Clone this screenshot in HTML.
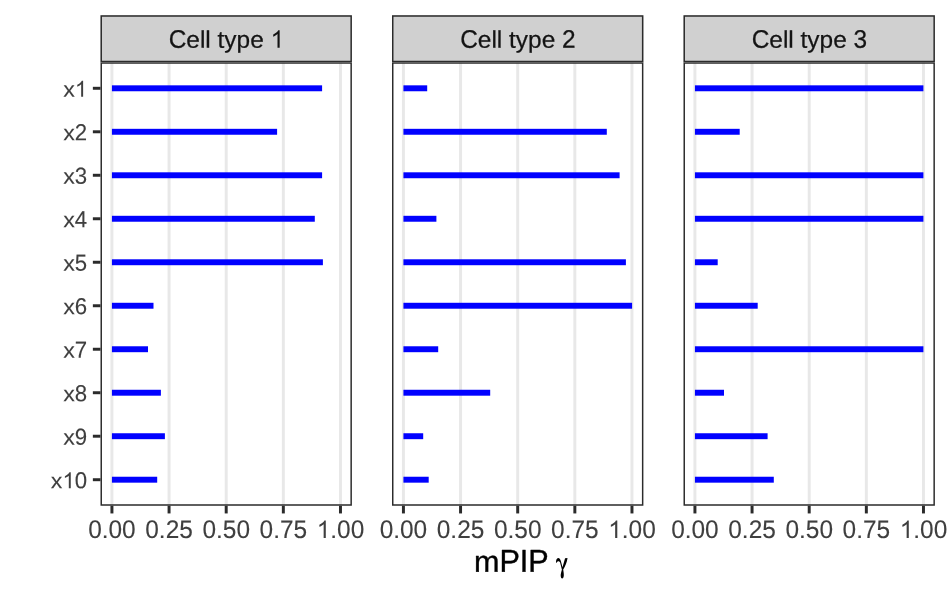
<!DOCTYPE html>
<html><head><meta charset="utf-8"><title>mPIP</title>
<style>
html,body{margin:0;padding:0;background:#fff;}
body{width:950px;height:600px;overflow:hidden;}
#w{width:950px;height:600px;opacity:0.999;will-change:transform;}
svg{display:block;}
text{font-family:"Liberation Sans",sans-serif;white-space:pre;font-kerning:none;stroke-linejoin:round;}
</style></head><body><div id="w">
<svg width="950" height="600" viewBox="0 0 950 600">
<!-- panel 1 -->
<rect x="110.45" y="62.2" width="2.96" height="443.60" fill="#E8E8E8"/>
<rect x="167.58" y="62.2" width="2.96" height="443.60" fill="#E8E8E8"/>
<rect x="224.72" y="62.2" width="2.96" height="443.60" fill="#E8E8E8"/>
<rect x="281.86" y="62.2" width="2.96" height="443.60" fill="#E8E8E8"/>
<rect x="338.99" y="62.2" width="2.96" height="443.60" fill="#E8E8E8"/>
<rect x="111.93" y="85.33" width="210.17" height="5.93" fill="#0000FF"/>
<rect x="111.93" y="128.82" width="165.17" height="5.93" fill="#0000FF"/>
<rect x="111.93" y="172.31" width="210.17" height="5.93" fill="#0000FF"/>
<rect x="111.93" y="215.80" width="202.87" height="5.93" fill="#0000FF"/>
<rect x="111.93" y="259.29" width="210.97" height="5.93" fill="#0000FF"/>
<rect x="111.93" y="302.78" width="41.57" height="5.93" fill="#0000FF"/>
<rect x="111.93" y="346.27" width="36.07" height="5.93" fill="#0000FF"/>
<rect x="111.93" y="389.76" width="48.97" height="5.93" fill="#0000FF"/>
<rect x="111.93" y="433.25" width="52.97" height="5.93" fill="#0000FF"/>
<rect x="111.93" y="476.74" width="45.27" height="5.93" fill="#0000FF"/>
<path fill="#2B2B2B" fill-rule="evenodd" d="M100.50 62.20h251.40v443.60h-251.40zM101.98 63.68h248.44v440.64h-248.44z"/>
<rect x="100.50" y="15.25" width="251.4" height="46.95" fill="#D0D0D0"/>
<path fill="#2B2B2B" fill-rule="evenodd" d="M100.50 15.25h251.40v46.95h-251.40zM101.98 16.73h248.44v43.99h-248.44z"/>
<text transform="translate(168.67 47.8) rotate(0.05) scale(1 1.04)" font-size="24.44" fill="#141414" stroke="#141414" stroke-width="0.25">C</text><text transform="translate(186.32 47.8) rotate(0.05) scale(1 0.985)" font-size="24.44" fill="#141414" stroke="#141414" stroke-width="0.25">ell type </text><text x="270.54" y="47.8" font-size="24.44" fill="none">1</text><path transform="translate(270.54 47.80) scale(0.011934 -0.011934)" fill="#141414" d="M763 0H583V1147Q518 1085 412.5 1023T223 930V1104Q374 1175 487 1276T647 1472H763Z"/>
<rect x="110.45" y="505.8" width="2.96" height="7.64" fill="#2B2B2B"/>
<text transform="translate(88.14 537.95) rotate(0.05) scale(1 1.042)" font-size="24.44" fill="#3F3F3F" stroke="#3F3F3F" stroke-width="0.12">0</text><text transform="translate(101.74 537.95) rotate(0.05) scale(1 0.97)" font-size="24.44" fill="#3F3F3F" stroke="#3F3F3F" stroke-width="0.12">.</text><text transform="translate(108.53 537.95) rotate(0.05) scale(1 1.042)" font-size="24.44" fill="#3F3F3F" stroke="#3F3F3F" stroke-width="0.12">00</text>
<rect x="167.58" y="505.8" width="2.96" height="7.64" fill="#2B2B2B"/>
<text transform="translate(145.28 537.95) rotate(0.05) scale(1 1.042)" font-size="24.44" fill="#3F3F3F" stroke="#3F3F3F" stroke-width="0.12">0</text><text transform="translate(158.87 537.95) rotate(0.05) scale(1 0.97)" font-size="24.44" fill="#3F3F3F" stroke="#3F3F3F" stroke-width="0.12">.</text><text transform="translate(165.66 537.95) rotate(0.05) scale(1 1.042)" font-size="24.44" fill="#3F3F3F" stroke="#3F3F3F" stroke-width="0.12">25</text>
<rect x="224.72" y="505.8" width="2.96" height="7.64" fill="#2B2B2B"/>
<text transform="translate(202.42 537.95) rotate(0.05) scale(1 1.042)" font-size="24.44" fill="#3F3F3F" stroke="#3F3F3F" stroke-width="0.12">0</text><text transform="translate(216.01 537.95) rotate(0.05) scale(1 0.97)" font-size="24.44" fill="#3F3F3F" stroke="#3F3F3F" stroke-width="0.12">.</text><text transform="translate(222.80 537.95) rotate(0.05) scale(1 1.042)" font-size="24.44" fill="#3F3F3F" stroke="#3F3F3F" stroke-width="0.12">50</text>
<rect x="281.86" y="505.8" width="2.96" height="7.64" fill="#2B2B2B"/>
<text transform="translate(259.55 537.95) rotate(0.05) scale(1 1.042)" font-size="24.44" fill="#3F3F3F" stroke="#3F3F3F" stroke-width="0.12">0</text><text transform="translate(273.15 537.95) rotate(0.05) scale(1 0.97)" font-size="24.44" fill="#3F3F3F" stroke="#3F3F3F" stroke-width="0.12">.</text><text transform="translate(279.94 537.95) rotate(0.05) scale(1 1.042)" font-size="24.44" fill="#3F3F3F" stroke="#3F3F3F" stroke-width="0.12">75</text>
<rect x="338.99" y="505.8" width="2.96" height="7.64" fill="#2B2B2B"/>
<text x="316.69" y="537.95" font-size="24.44" fill="none">1</text><path transform="translate(316.69 537.95) scale(0.011934 -0.011934)" fill="#3F3F3F" d="M763 0H583V1147Q518 1085 412.5 1023T223 930V1104Q374 1175 487 1276T647 1472H763Z"/><text transform="translate(330.28 537.95) rotate(0.05) scale(1 0.97)" font-size="24.44" fill="#3F3F3F" stroke="#3F3F3F" stroke-width="0.12">.</text><text transform="translate(337.07 537.95) rotate(0.05) scale(1 1.042)" font-size="24.44" fill="#3F3F3F" stroke="#3F3F3F" stroke-width="0.12">00</text>
<!-- panel 2 -->
<rect x="401.95" y="62.2" width="2.96" height="443.60" fill="#E8E8E8"/>
<rect x="459.08" y="62.2" width="2.96" height="443.60" fill="#E8E8E8"/>
<rect x="516.22" y="62.2" width="2.96" height="443.60" fill="#E8E8E8"/>
<rect x="573.36" y="62.2" width="2.96" height="443.60" fill="#E8E8E8"/>
<rect x="630.49" y="62.2" width="2.96" height="443.60" fill="#E8E8E8"/>
<rect x="403.43" y="85.33" width="23.77" height="5.93" fill="#0000FF"/>
<rect x="403.43" y="128.82" width="203.37" height="5.93" fill="#0000FF"/>
<rect x="403.43" y="172.31" width="216.17" height="5.93" fill="#0000FF"/>
<rect x="403.43" y="215.80" width="32.97" height="5.93" fill="#0000FF"/>
<rect x="403.43" y="259.29" width="222.47" height="5.93" fill="#0000FF"/>
<rect x="403.43" y="302.78" width="228.67" height="5.93" fill="#0000FF"/>
<rect x="403.43" y="346.27" width="34.77" height="5.93" fill="#0000FF"/>
<rect x="403.43" y="389.76" width="86.77" height="5.93" fill="#0000FF"/>
<rect x="403.43" y="433.25" width="19.77" height="5.93" fill="#0000FF"/>
<rect x="403.43" y="476.74" width="25.27" height="5.93" fill="#0000FF"/>
<path fill="#2B2B2B" fill-rule="evenodd" d="M392.00 62.20h251.40v443.60h-251.40zM393.48 63.68h248.44v440.64h-248.44z"/>
<rect x="392.00" y="15.25" width="251.4" height="46.95" fill="#D0D0D0"/>
<path fill="#2B2B2B" fill-rule="evenodd" d="M392.00 15.25h251.40v46.95h-251.40zM393.48 16.73h248.44v43.99h-248.44z"/>
<text transform="translate(460.17 47.8) rotate(0.05) scale(1 1.04)" font-size="24.44" fill="#141414" stroke="#141414" stroke-width="0.25">C</text><text transform="translate(477.82 47.8) rotate(0.05) scale(1 0.985)" font-size="24.44" fill="#141414" stroke="#141414" stroke-width="0.25">ell type </text><text transform="translate(562.04 47.8) rotate(0.05) scale(1 1.04)" font-size="24.44" fill="#141414" stroke="#141414" stroke-width="0.25">2</text>
<rect x="401.95" y="505.8" width="2.96" height="7.64" fill="#2B2B2B"/>
<text transform="translate(379.64 537.95) rotate(0.05) scale(1 1.042)" font-size="24.44" fill="#3F3F3F" stroke="#3F3F3F" stroke-width="0.12">0</text><text transform="translate(393.24 537.95) rotate(0.05) scale(1 0.97)" font-size="24.44" fill="#3F3F3F" stroke="#3F3F3F" stroke-width="0.12">.</text><text transform="translate(400.03 537.95) rotate(0.05) scale(1 1.042)" font-size="24.44" fill="#3F3F3F" stroke="#3F3F3F" stroke-width="0.12">00</text>
<rect x="459.08" y="505.8" width="2.96" height="7.64" fill="#2B2B2B"/>
<text transform="translate(436.78 537.95) rotate(0.05) scale(1 1.042)" font-size="24.44" fill="#3F3F3F" stroke="#3F3F3F" stroke-width="0.12">0</text><text transform="translate(450.37 537.95) rotate(0.05) scale(1 0.97)" font-size="24.44" fill="#3F3F3F" stroke="#3F3F3F" stroke-width="0.12">.</text><text transform="translate(457.16 537.95) rotate(0.05) scale(1 1.042)" font-size="24.44" fill="#3F3F3F" stroke="#3F3F3F" stroke-width="0.12">25</text>
<rect x="516.22" y="505.8" width="2.96" height="7.64" fill="#2B2B2B"/>
<text transform="translate(493.92 537.95) rotate(0.05) scale(1 1.042)" font-size="24.44" fill="#3F3F3F" stroke="#3F3F3F" stroke-width="0.12">0</text><text transform="translate(507.51 537.95) rotate(0.05) scale(1 0.97)" font-size="24.44" fill="#3F3F3F" stroke="#3F3F3F" stroke-width="0.12">.</text><text transform="translate(514.30 537.95) rotate(0.05) scale(1 1.042)" font-size="24.44" fill="#3F3F3F" stroke="#3F3F3F" stroke-width="0.12">50</text>
<rect x="573.36" y="505.8" width="2.96" height="7.64" fill="#2B2B2B"/>
<text transform="translate(551.05 537.95) rotate(0.05) scale(1 1.042)" font-size="24.44" fill="#3F3F3F" stroke="#3F3F3F" stroke-width="0.12">0</text><text transform="translate(564.65 537.95) rotate(0.05) scale(1 0.97)" font-size="24.44" fill="#3F3F3F" stroke="#3F3F3F" stroke-width="0.12">.</text><text transform="translate(571.44 537.95) rotate(0.05) scale(1 1.042)" font-size="24.44" fill="#3F3F3F" stroke="#3F3F3F" stroke-width="0.12">75</text>
<rect x="630.49" y="505.8" width="2.96" height="7.64" fill="#2B2B2B"/>
<text x="608.19" y="537.95" font-size="24.44" fill="none">1</text><path transform="translate(608.19 537.95) scale(0.011934 -0.011934)" fill="#3F3F3F" d="M763 0H583V1147Q518 1085 412.5 1023T223 930V1104Q374 1175 487 1276T647 1472H763Z"/><text transform="translate(621.78 537.95) rotate(0.05) scale(1 0.97)" font-size="24.44" fill="#3F3F3F" stroke="#3F3F3F" stroke-width="0.12">.</text><text transform="translate(628.57 537.95) rotate(0.05) scale(1 1.042)" font-size="24.44" fill="#3F3F3F" stroke="#3F3F3F" stroke-width="0.12">00</text>
<!-- panel 3 -->
<rect x="693.45" y="62.2" width="2.96" height="443.60" fill="#E8E8E8"/>
<rect x="750.58" y="62.2" width="2.96" height="443.60" fill="#E8E8E8"/>
<rect x="807.72" y="62.2" width="2.96" height="443.60" fill="#E8E8E8"/>
<rect x="864.86" y="62.2" width="2.96" height="443.60" fill="#E8E8E8"/>
<rect x="921.99" y="62.2" width="2.96" height="443.60" fill="#E8E8E8"/>
<rect x="694.93" y="85.33" width="228.47" height="5.93" fill="#0000FF"/>
<rect x="694.93" y="128.82" width="44.77" height="5.93" fill="#0000FF"/>
<rect x="694.93" y="172.31" width="228.47" height="5.93" fill="#0000FF"/>
<rect x="694.93" y="215.80" width="228.47" height="5.93" fill="#0000FF"/>
<rect x="694.93" y="259.29" width="22.77" height="5.93" fill="#0000FF"/>
<rect x="694.93" y="302.78" width="62.77" height="5.93" fill="#0000FF"/>
<rect x="694.93" y="346.27" width="228.47" height="5.93" fill="#0000FF"/>
<rect x="694.93" y="389.76" width="29.07" height="5.93" fill="#0000FF"/>
<rect x="694.93" y="433.25" width="72.67" height="5.93" fill="#0000FF"/>
<rect x="694.93" y="476.74" width="78.87" height="5.93" fill="#0000FF"/>
<path fill="#2B2B2B" fill-rule="evenodd" d="M683.50 62.20h251.40v443.60h-251.40zM684.98 63.68h248.44v440.64h-248.44z"/>
<rect x="683.50" y="15.25" width="251.4" height="46.95" fill="#D0D0D0"/>
<path fill="#2B2B2B" fill-rule="evenodd" d="M683.50 15.25h251.40v46.95h-251.40zM684.98 16.73h248.44v43.99h-248.44z"/>
<text transform="translate(751.67 47.8) rotate(0.05) scale(1 1.04)" font-size="24.44" fill="#141414" stroke="#141414" stroke-width="0.25">C</text><text transform="translate(769.32 47.8) rotate(0.05) scale(1 0.985)" font-size="24.44" fill="#141414" stroke="#141414" stroke-width="0.25">ell type </text><text transform="translate(853.54 47.8) rotate(0.05) scale(1 1.04)" font-size="24.44" fill="#141414" stroke="#141414" stroke-width="0.25">3</text>
<rect x="693.45" y="505.8" width="2.96" height="7.64" fill="#2B2B2B"/>
<text transform="translate(671.14 537.95) rotate(0.05) scale(1 1.042)" font-size="24.44" fill="#3F3F3F" stroke="#3F3F3F" stroke-width="0.12">0</text><text transform="translate(684.74 537.95) rotate(0.05) scale(1 0.97)" font-size="24.44" fill="#3F3F3F" stroke="#3F3F3F" stroke-width="0.12">.</text><text transform="translate(691.53 537.95) rotate(0.05) scale(1 1.042)" font-size="24.44" fill="#3F3F3F" stroke="#3F3F3F" stroke-width="0.12">00</text>
<rect x="750.58" y="505.8" width="2.96" height="7.64" fill="#2B2B2B"/>
<text transform="translate(728.28 537.95) rotate(0.05) scale(1 1.042)" font-size="24.44" fill="#3F3F3F" stroke="#3F3F3F" stroke-width="0.12">0</text><text transform="translate(741.87 537.95) rotate(0.05) scale(1 0.97)" font-size="24.44" fill="#3F3F3F" stroke="#3F3F3F" stroke-width="0.12">.</text><text transform="translate(748.66 537.95) rotate(0.05) scale(1 1.042)" font-size="24.44" fill="#3F3F3F" stroke="#3F3F3F" stroke-width="0.12">25</text>
<rect x="807.72" y="505.8" width="2.96" height="7.64" fill="#2B2B2B"/>
<text transform="translate(785.42 537.95) rotate(0.05) scale(1 1.042)" font-size="24.44" fill="#3F3F3F" stroke="#3F3F3F" stroke-width="0.12">0</text><text transform="translate(799.01 537.95) rotate(0.05) scale(1 0.97)" font-size="24.44" fill="#3F3F3F" stroke="#3F3F3F" stroke-width="0.12">.</text><text transform="translate(805.80 537.95) rotate(0.05) scale(1 1.042)" font-size="24.44" fill="#3F3F3F" stroke="#3F3F3F" stroke-width="0.12">50</text>
<rect x="864.86" y="505.8" width="2.96" height="7.64" fill="#2B2B2B"/>
<text transform="translate(842.55 537.95) rotate(0.05) scale(1 1.042)" font-size="24.44" fill="#3F3F3F" stroke="#3F3F3F" stroke-width="0.12">0</text><text transform="translate(856.15 537.95) rotate(0.05) scale(1 0.97)" font-size="24.44" fill="#3F3F3F" stroke="#3F3F3F" stroke-width="0.12">.</text><text transform="translate(862.94 537.95) rotate(0.05) scale(1 1.042)" font-size="24.44" fill="#3F3F3F" stroke="#3F3F3F" stroke-width="0.12">75</text>
<rect x="921.99" y="505.8" width="2.96" height="7.64" fill="#2B2B2B"/>
<text x="899.69" y="537.95" font-size="24.44" fill="none">1</text><path transform="translate(899.69 537.95) scale(0.011934 -0.011934)" fill="#3F3F3F" d="M763 0H583V1147Q518 1085 412.5 1023T223 930V1104Q374 1175 487 1276T647 1472H763Z"/><text transform="translate(913.28 537.95) rotate(0.05) scale(1 0.97)" font-size="24.44" fill="#3F3F3F" stroke="#3F3F3F" stroke-width="0.12">.</text><text transform="translate(920.07 537.95) rotate(0.05) scale(1 1.042)" font-size="24.44" fill="#3F3F3F" stroke="#3F3F3F" stroke-width="0.12">00</text>
<!-- y axis -->
<rect x="92.86" y="86.81" width="7.64" height="2.96" fill="#2B2B2B"/>
<text transform="translate(63.18 96.79) rotate(0.05) scale(1.05 0.98)" font-size="22.22" fill="#3F3F3F" stroke="#3F3F3F" stroke-width="0.12">x</text><text x="74.84" y="96.79" font-size="22.22" fill="none">1</text><path transform="translate(74.84 96.79) scale(0.010850 -0.010850)" fill="#3F3F3F" d="M763 0H583V1147Q518 1085 412.5 1023T223 930V1104Q374 1175 487 1276T647 1472H763Z"/>
<rect x="92.86" y="130.30" width="7.64" height="2.96" fill="#2B2B2B"/>
<text transform="translate(63.18 140.28) rotate(0.05) scale(1.05 0.98)" font-size="22.22" fill="#3F3F3F" stroke="#3F3F3F" stroke-width="0.12">x</text><text transform="translate(74.84 140.28) rotate(0.05) scale(1 1.042)" font-size="22.22" fill="#3F3F3F" stroke="#3F3F3F" stroke-width="0.12">2</text>
<rect x="92.86" y="173.79" width="7.64" height="2.96" fill="#2B2B2B"/>
<text transform="translate(63.18 183.77) rotate(0.05) scale(1.05 0.98)" font-size="22.22" fill="#3F3F3F" stroke="#3F3F3F" stroke-width="0.12">x</text><text transform="translate(74.84 183.77) rotate(0.05) scale(1 1.042)" font-size="22.22" fill="#3F3F3F" stroke="#3F3F3F" stroke-width="0.12">3</text>
<rect x="92.86" y="217.28" width="7.64" height="2.96" fill="#2B2B2B"/>
<text transform="translate(63.18 227.26) rotate(0.05) scale(1.05 0.98)" font-size="22.22" fill="#3F3F3F" stroke="#3F3F3F" stroke-width="0.12">x</text><text transform="translate(74.84 227.26) rotate(0.05) scale(1 1.042)" font-size="22.22" fill="#3F3F3F" stroke="#3F3F3F" stroke-width="0.12">4</text>
<rect x="92.86" y="260.77" width="7.64" height="2.96" fill="#2B2B2B"/>
<text transform="translate(63.18 270.75) rotate(0.05) scale(1.05 0.98)" font-size="22.22" fill="#3F3F3F" stroke="#3F3F3F" stroke-width="0.12">x</text><text transform="translate(74.84 270.75) rotate(0.05) scale(1 1.042)" font-size="22.22" fill="#3F3F3F" stroke="#3F3F3F" stroke-width="0.12">5</text>
<rect x="92.86" y="304.27" width="7.64" height="2.96" fill="#2B2B2B"/>
<text transform="translate(63.18 314.25) rotate(0.05) scale(1.05 0.98)" font-size="22.22" fill="#3F3F3F" stroke="#3F3F3F" stroke-width="0.12">x</text><text transform="translate(74.84 314.25) rotate(0.05) scale(1 1.042)" font-size="22.22" fill="#3F3F3F" stroke="#3F3F3F" stroke-width="0.12">6</text>
<rect x="92.86" y="347.76" width="7.64" height="2.96" fill="#2B2B2B"/>
<text transform="translate(63.18 357.74) rotate(0.05) scale(1.05 0.98)" font-size="22.22" fill="#3F3F3F" stroke="#3F3F3F" stroke-width="0.12">x</text><text transform="translate(74.84 357.74) rotate(0.05) scale(1 1.042)" font-size="22.22" fill="#3F3F3F" stroke="#3F3F3F" stroke-width="0.12">7</text>
<rect x="92.86" y="391.25" width="7.64" height="2.96" fill="#2B2B2B"/>
<text transform="translate(63.18 401.23) rotate(0.05) scale(1.05 0.98)" font-size="22.22" fill="#3F3F3F" stroke="#3F3F3F" stroke-width="0.12">x</text><text transform="translate(74.84 401.23) rotate(0.05) scale(1 1.042)" font-size="22.22" fill="#3F3F3F" stroke="#3F3F3F" stroke-width="0.12">8</text>
<rect x="92.86" y="434.74" width="7.64" height="2.96" fill="#2B2B2B"/>
<text transform="translate(63.18 444.72) rotate(0.05) scale(1.05 0.98)" font-size="22.22" fill="#3F3F3F" stroke="#3F3F3F" stroke-width="0.12">x</text><text transform="translate(74.84 444.72) rotate(0.05) scale(1 1.042)" font-size="22.22" fill="#3F3F3F" stroke="#3F3F3F" stroke-width="0.12">9</text>
<rect x="92.86" y="478.23" width="7.64" height="2.96" fill="#2B2B2B"/>
<text transform="translate(50.82 488.21) rotate(0.05) scale(1.05 0.98)" font-size="22.22" fill="#3F3F3F" stroke="#3F3F3F" stroke-width="0.12">x</text><text x="62.48" y="488.21" font-size="22.22" fill="none">1</text><path transform="translate(62.48 488.21) scale(0.010850 -0.010850)" fill="#3F3F3F" d="M763 0H583V1147Q518 1085 412.5 1023T223 930V1104Q374 1175 487 1276T647 1472H763Z"/><text transform="translate(74.84 488.21) rotate(0.05) scale(1 1.042)" font-size="22.22" fill="#3F3F3F" stroke="#3F3F3F" stroke-width="0.12">0</text>
<!-- axis title -->
<text transform="translate(474.00 571.8) rotate(0.05) scale(1 0.975)" font-size="30.56" fill="#000" stroke="#000" stroke-width="0.4">m</text><text transform="translate(499.46 571.8) rotate(0.05) scale(1 1.04)" font-size="30.56" fill="#000" stroke="#000" stroke-width="0.4">PIP</text>
<path transform="translate(545 550) scale(0.058333)" fill="#000" d="M190 218C186 178 200 137 226 137C252 137 264 165 273 193L300 296L344 140L386 137C380 200 346 280 312 335C318 372 325 415 322 440C320 468 310 487 294 487C280 487 270 468 269 440C267 412 282 368 290 340L259 213C252 199 238 192 225 192C212 192 205 205 201 219Z"/>
</svg>
</div></body></html>
